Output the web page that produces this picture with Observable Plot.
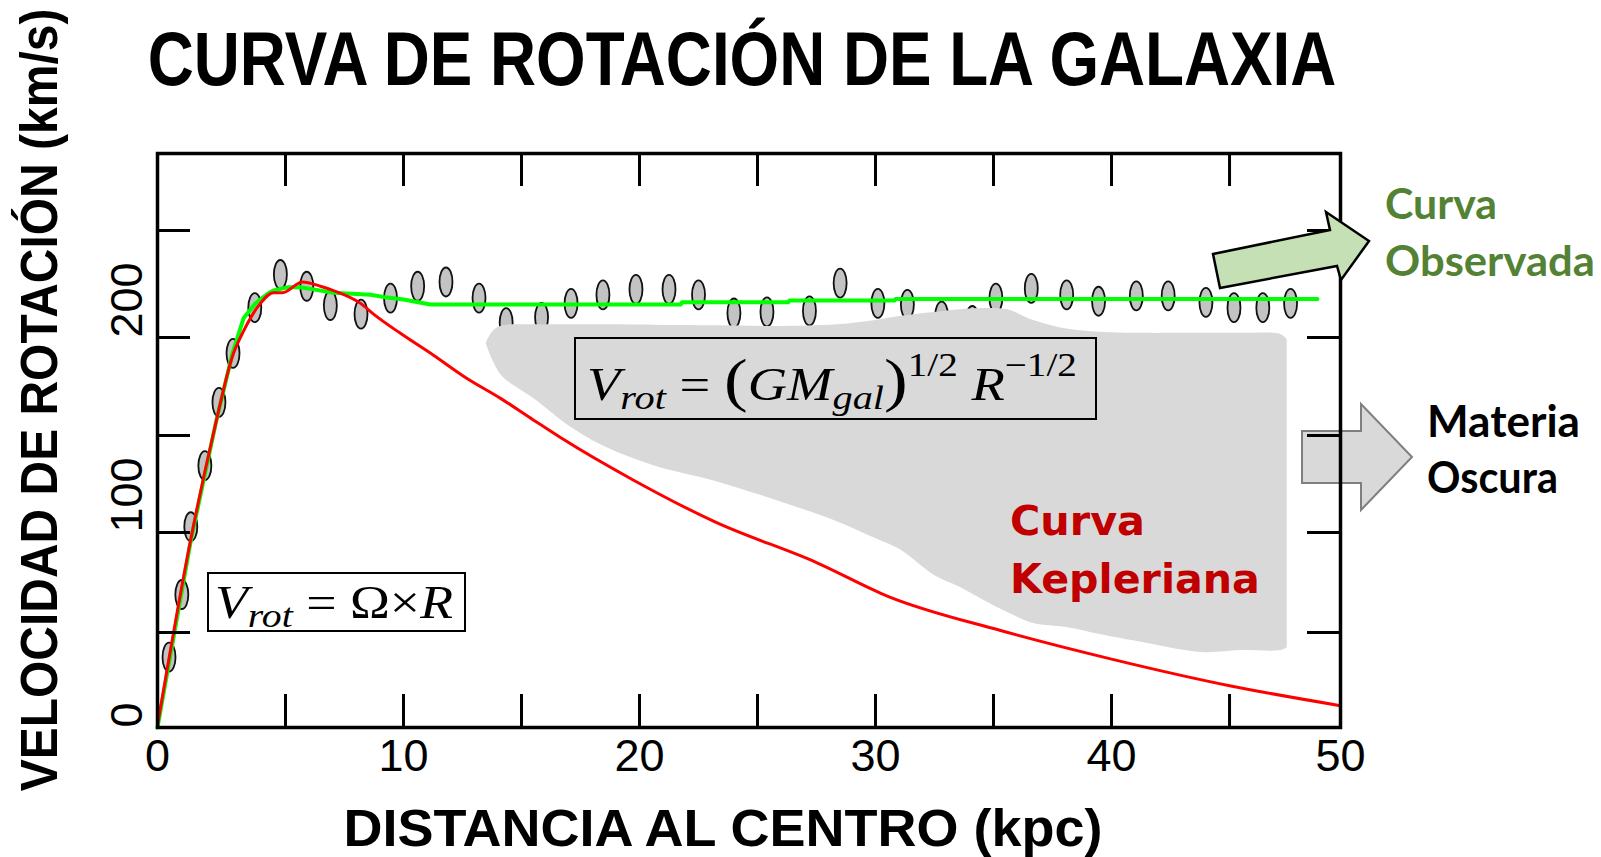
<!DOCTYPE html>
<html><head><meta charset="utf-8">
<script src="https://cdn.jsdelivr.net/npm/d3@7"></script>
<script src="https://cdn.jsdelivr.net/npm/@observablehq/plot@0.6"></script>
<style>body{margin:0;background:#fff} #chart{position:relative;width:1601px;height:857px}</style>
</head><body><div id="chart"></div>
<script>
// ---------- data ----------
const pointsX = [0.45, 0.95, 1.3, 1.85, 2.4, 2.95, 3.8, 4.8, 5.9, 6.9, 8.2, 9.45, 10.6, 11.8, 13.2, 14.35, 15.85, 17.1, 18.45, 19.85, 21.25, 22.5, 24.0, 25.4, 27.2, 28.5, 30.1, 31.35, 32.8, 34.1, 35.1, 36.6, 38.1, 39.45, 41.05, 42.4, 44.0, 45.2, 46.5, 47.75];
const pointsY = [37, 69, 103, 134.5, 167, 192, 214, 229.5, 224, 215, 211, 218.5, 224, 226, 218.5, 207, 209.5, 216, 220, 222.5, 222.5, 220, 211.5, 212, 212.5, 225.5, 216, 215.5, 210, 208, 218.5, 223, 220, 217, 219.5, 219.5, 216.5, 214, 214, 216];

const observedX = [0, 1.3, 2.27, 2.93, 3.36, 3.83, 4.3, 4.53, 5.08, 5.64, 5.93, 7.03, 8.6, 9.32, 10.0, 11.14, 21.75, 21.8, 26.3, 26.35, 30.8, 30.85, 35.4, 48.96];
const observedY = [0, 96, 156, 192, 209, 216, 220.5, 222, 223.5, 223.5, 223, 221, 220, 218.7, 217.8, 215.5, 215.5, 216.5, 216.5, 217.3, 217.3, 218.1, 218.1, 218.1];

const keplerX = [0, 1.29, 2.15, 2.97, 3.36, 4.02, 4.53, 4.88, 5.72, 6.48, 7.03, 8.18, 8.73, 9.87, 11.27, 12.71, 14.11, 15.5, 16.65, 19.75, 23.2, 27.5, 30.55, 35.3, 40.0, 45.0, 50.0];
const keplerY = [1, 96, 149, 192, 203, 216, 221, 221, 226, 224, 222, 216, 211, 202, 191, 179, 169, 158, 149, 127, 105.5, 85, 68, 51, 36, 22, 11.5];

const darkX    = [13.5, 13.8, 14.2, 14.8, 15.5, 17.0, 18.4, 20.6, 23.2, 25.8, 28.4, 30.0, 31.1, 32.5, 33.6, 34.6, 35.6, 36.7, 38.1, 39.5, 41.0, 43.8, 45.5, 47.3, 47.6];
const darkHigh = [197, 203, 205.5, 206, 206, 206, 206, 205.8, 205.5, 205.2, 206, 208, 210, 211.7, 213, 213.6, 213, 208, 204, 202.5, 202, 202, 202, 201.5, 199];
const darkLow  = [197, 188, 180, 174.5, 169, 155, 145, 134.5, 126.5, 116.5, 105.5, 97, 91, 78.5, 72.5, 66, 60, 54.5, 52.5, 49, 45.5, 39.5, 40.5, 40.5, 42];

const xTicks = [5, 10, 15, 20, 25, 30, 35, 40, 45];
const xTickLabels = [0, 10, 20, 30, 40, 50];
const yTicks = [50, 100, 150, 200, 250];
const yTickLabels = [0, 100, 200];

const titleText = "CURVA DE ROTACIÓN DE LA GALAXIA";
const yTitleText = "VELOCIDAD DE ROTACIÓN (km/s)";
const xTitleText = "DISTANCIA AL CENTRO (kpc)";
const observedLabel = ["Curva", "Observada"];
const darkLabel = ["Materia", "Oscura"];
const keplerLabel = ["Curva", "Kepleriana"];

// ---------- tables ----------
const points = pointsX.map((x, i) => ({x, y: pointsY[i]}));
const observed = observedX.map((x, i) => ({x, y: observedY[i]}));
const kepler = keplerX.map((x, i) => ({x, y: keplerY[i]}));
const dark = darkX.map((x, i) => ({x, lo: darkLow[i], hi: darkHigh[i]}));

// ---------- layout ----------
const W = 1601, H = 857;
const fL = 157, fR = 1340, fT = 153, fB = 727;
const tickLen = 33;

// calibration of the original (slightly uneven) scanned axes
const xCal = d3.scaleLinear().domain([0, 5, 45, 50]).range([0, 5.41, 45.31, 50]);
const yCal = d3.scaleLinear().domain([0, 50, 100, 150, 200, 250, 287]).range([0, 48.3, 99.1, 148.4, 198.2, 252.6, 291.8]);

const ellipse = {
  draw(ctx) {
    const rx = 6.5, ry = 14.5, k = 0.5523;
    ctx.moveTo(0, -ry);
    ctx.bezierCurveTo(k * rx, -ry, rx, -k * ry, rx, 0);
    ctx.bezierCurveTo(rx, k * ry, k * rx, ry, 0, ry);
    ctx.bezierCurveTo(-k * rx, ry, -rx, k * ry, -rx, 0);
    ctx.bezierCurveTo(-rx, -k * ry, -k * rx, -ry, 0, -ry);
    ctx.closePath();
  }
};

const plot = Plot.plot({
  width: W, height: H,
  marginLeft: fL, marginRight: W - fR, marginTop: fT, marginBottom: H - fB,
  style: {background: "white", fontFamily: "Liberation Sans, Arial, sans-serif", overflow: "visible"},
  x: {transform: xCal, domain: [0, 50], axis: null},
  y: {transform: yCal, domain: [0, 291.8], axis: null},
  marks: [
    Plot.dot(points, {x: "x", y: "y", symbol: ellipse, fill: "#c3c3c3", stroke: "#111", strokeWidth: 1.8}),
    Plot.areaY(dark, {x: "x", y1: "lo", y2: "hi", fill: "#d9d9d9", curve: "catmull-rom"}),
    Plot.line(observed, {x: "x", y: "y", stroke: "#00ff00", strokeWidth: 4}),
    Plot.line(kepler, {x: "x", y: "y", stroke: "#ff0000", strokeWidth: 3, curve: "monotone-x"}),
    Plot.tickX(xTicks, {x: d => d, insetTop: (fB - fT) - tickLen, stroke: "black", strokeWidth: 3}),
    Plot.tickX(xTicks, {x: d => d, insetBottom: (fB - fT) - tickLen, stroke: "black", strokeWidth: 3}),
    Plot.tickY(yTicks, {y: d => d, insetRight: (fR - fL) - tickLen, stroke: "black", strokeWidth: 3}),
    Plot.tickY(yTicks, {y: d => d, insetLeft: (fR - fL) - tickLen, stroke: "black", strokeWidth: 3}),
    Plot.frame({stroke: "black", strokeWidth: 3.5}),
    Plot.text(xTickLabels, {x: d => d, text: d => String(d), frameAnchor: "bottom", lineAnchor: "top", dy: 12, fontSize: 45, fill: "black"}),
    Plot.text(yTickLabels, {y: d => d, text: d => String(d), frameAnchor: "left", rotate: -90, dx: -30, lineAnchor: "middle", fontSize: 45, fill: "black"})
  ]
});
document.getElementById("chart").appendChild(plot);
const svg = d3.select(plot);

// ---------- annotation helpers ----------
function fitText(sel, target, cx, cy, rot) {
  const w = sel.node().getBBox().width;
  const s = target / w;
  sel.attr("transform", `translate(${cx},${cy}) rotate(${rot || 0}) scale(${s},1)`);
}
function label(parent, txt, opts) {
  const t = parent.append("text")
    .attr("x", 0).attr("y", 0)
    .attr("text-anchor", opts.anchor || "start")
    .attr("font-family", opts.family)
    .attr("font-weight", opts.weight || "bold")
    .attr("font-size", opts.size)
    .attr("fill", opts.fill || "black")
    .text(txt);
  if (opts.width) fitText(t, opts.width, opts.x, opts.y, opts.rotate);
  else t.attr("transform", `translate(${opts.x},${opts.y}) rotate(${opts.rotate || 0})`);
  return t;
}

// gray arrow (under the frame)
const g0 = svg.insert("g", ":first-child");
g0.append("path")
  .attr("d", d3.line()([[1302, 431], [1361, 431], [1361, 404], [1412, 457], [1361, 510], [1361, 483], [1302, 483]]) + "Z")
  .attr("fill", "#d9d9d9").attr("stroke", "#7f7f7f").attr("stroke-width", 2);

const g = svg.append("g");
// green arrow
g.append("path")
  .attr("d", d3.line()([[1213, 254], [1330, 230], [1326, 212], [1369, 241], [1341, 280], [1337, 266], [1220, 288]]) + "Z")
  .attr("fill", "#c5e0b4").attr("stroke", "black").attr("stroke-width", 2.5).attr("stroke-linejoin", "miter");

// title and axis titles
const sans = "Liberation Sans, Arial, sans-serif";
label(g, titleText, {x: 742, y: 85, size: 76, family: sans, anchor: "middle", width: 1189});
label(g, yTitleText, {x: 57, y: 400, size: 51, family: sans, anchor: "middle", rotate: -90, width: 783});
label(g, xTitleText, {x: 723, y: 846, size: 51, family: sans, anchor: "middle", width: 759});

// side labels
const lato = "Lato, Carlito, sans-serif";
label(g, observedLabel[0], {x: 1385, y: 219, size: 42, family: lato, fill: "#548235", width: 112});
label(g, observedLabel[1], {x: 1385, y: 276, size: 42, family: lato, fill: "#548235", width: 210});
label(g, darkLabel[0], {x: 1427, y: 437, size: 43, family: lato, fill: "black", width: 153});
label(g, darkLabel[1], {x: 1427, y: 493, size: 43, family: lato, fill: "black", width: 131});
const dvs = "DejaVu Sans, sans-serif";
label(g, keplerLabel[0], {x: 1010, y: 535, size: 41, family: dvs, fill: "#c00000", width: 135});
label(g, keplerLabel[1], {x: 1010, y: 593, size: 41, family: dvs, fill: "#c00000", width: 250});

// formula boxes
const serif = "Liberation Serif, DejaVu Serif, serif";
g.append("rect").attr("x", 208).attr("y", 573).attr("width", 257).attr("height", 58)
  .attr("fill", "white").attr("stroke", "black").attr("stroke-width", 2);
g.append("rect").attr("x", 575).attr("y", 338).attr("width", 521).attr("height", 81)
  .attr("fill", "none").attr("stroke", "black").attr("stroke-width", 2);

function formula(parts, x, y, width) {
  const t = g.append("text").attr("x", 0).attr("y", 0).attr("text-anchor", "start")
    .attr("font-family", serif).attr("font-size", 46).attr("fill", "black");
  for (const p of parts) {
    const s = t.append("tspan").text(p.t);
    if (p.i) s.attr("font-style", "italic");
    if (p.s) s.attr("font-size", p.s);
    if (p.dy) s.attr("dy", p.dy);
  }
  fitText(t, width, x, y, 0);
}
formula([
  {t: "V", i: 1}, {t: "rot", i: 1, s: 34, dy: 9}, {t: " = Ω×", dy: -9}, {t: "R", i: 1}
], 215, 618, 238);
formula([
  {t: "V", i: 1}, {t: "rot", i: 1, s: 34, dy: 9}, {t: " = ", dy: -9},
  {t: "(", s: 60}, {t: "GM", i: 1}, {t: "gal", i: 1, s: 34, dy: 9},
  {t: ")", s: 60, dy: -9}, {t: "1/2", s: 33, dy: -24}, {t: " R", i: 1, dy: 24},
  {t: "−1/2", s: 33, dy: -24}
], 587, 400, 490);
</script></body></html>
